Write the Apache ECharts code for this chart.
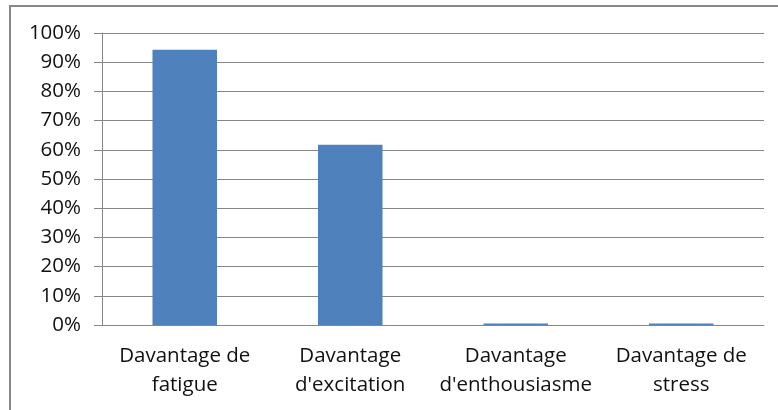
<!DOCTYPE html>
<html><head><meta charset="utf-8">
<script src="https://cdn.jsdelivr.net/npm/echarts@6/dist/echarts.min.js"></script>
<style>html,body{margin:0;padding:0;background:#fff}#c{width:778px;height:410px}</style>
</head><body><div id="c"></div>
<script>
var categories = ["Davantage de\nfatigue", "Davantage\nd'excitation", "Davantage\nd'enthousiasme", "Davantage de\nstress"];
var values = [94.3, 61.7, 0.5, 0.5];
var yTicks = [0, 10, 20, 30, 40, 50, 60, 70, 80, 90, 100];

var chart = echarts.init(document.getElementById('c'));
chart.setOption({
  animation: false,
  graphic: [{type: 'rect', shape: {x: 10, y: 6, width: 800, height: 420}, style: {fill: 'none', stroke: '#888', lineWidth: 2}}],
  grid: {left: 102, right: 14, top: 33, bottom: 85},
  xAxis: {
    type: 'category', data: categories,
    axisLine: {lineStyle: {color: '#868686'}},
    axisTick: {length: 8, lineStyle: {color: '#868686'}},
    axisLabel: {color: '#111', fontFamily: 'Open Sans', fontSize: 20.5, lineHeight: 29, margin: 17, interval: 0}
  },
  yAxis: {
    type: 'value', min: 0, max: 100, interval: 10,
    axisLine: {show: true, lineStyle: {color: '#868686'}},
    axisTick: {show: true, length: 8, lineStyle: {color: '#868686'}},
    splitLine: {lineStyle: {color: '#868686'}},
    axisLabel: {color: '#111', fontFamily: 'Open Sans', fontSize: 20.5, margin: 21,
      formatter: function(v){ return yTicks.indexOf(v) >= 0 ? v + '%' : ''; }}
  },
  series: [{type: 'bar', data: values, barWidth: '39%', itemStyle: {color: '#4F81BD'}}]
});
</script></body></html>
